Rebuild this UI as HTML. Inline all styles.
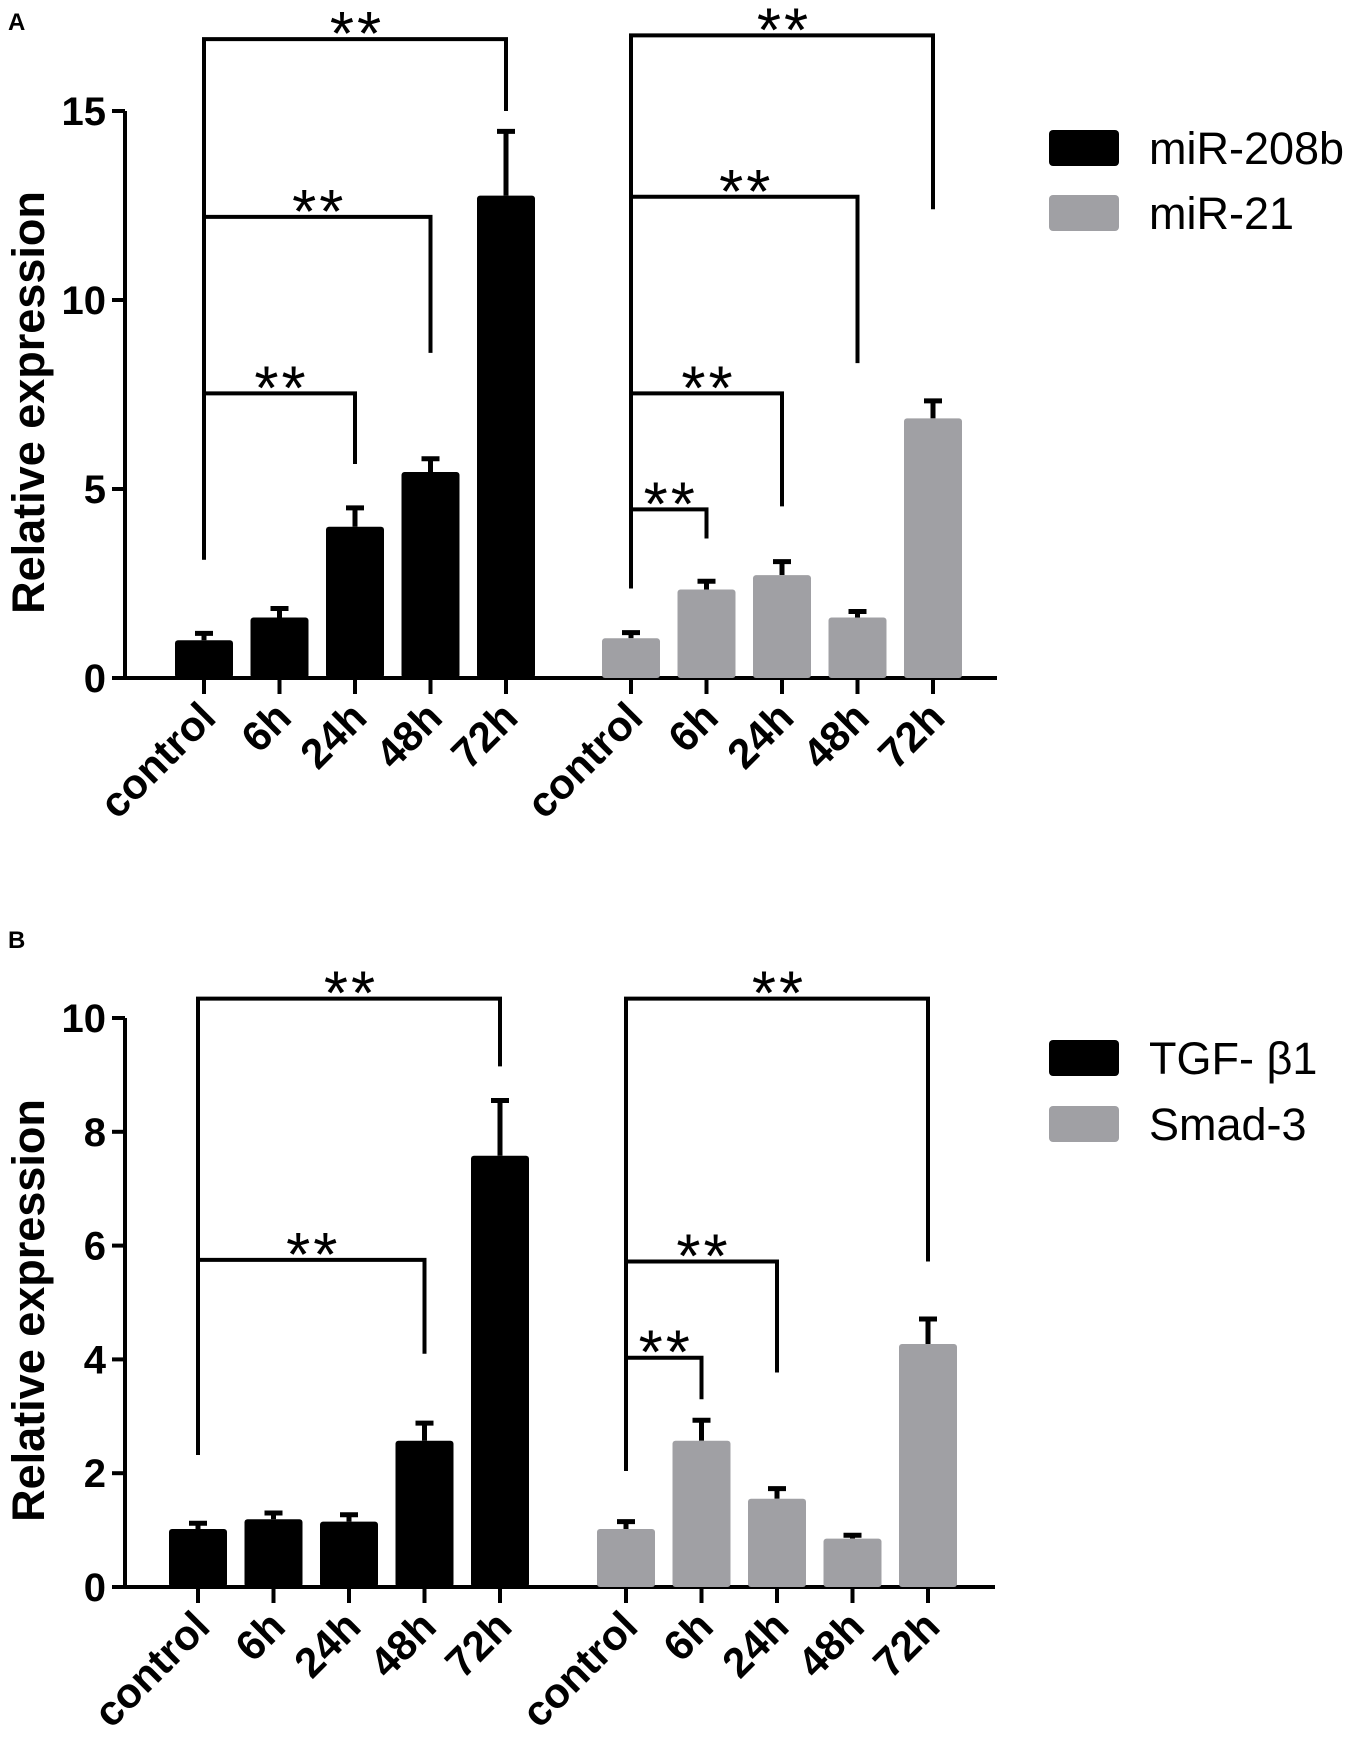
<!DOCTYPE html>
<html><head><meta charset="utf-8"><style>
body{margin:0;background:#fff}
svg{display:block;font-family:"Liberation Sans",Arial,sans-serif}
</style></head><body>
<svg id="c" width="1350" height="1737" viewBox="0 0 1350 1737" xmlns="http://www.w3.org/2000/svg"></svg>
<script>
const categories = ["control","6h","24h","48h","72h"];
const aSeries1 = [1.0,1.6,4.0,5.45,12.76];
const aErr1 = [1.18,1.84,4.5,5.8,14.46];
const aSeries2 = [1.05,2.34,2.72,1.6,6.87];
const aErr2 = [1.2,2.56,3.08,1.76,7.33];
const bSeries1 = [1.02,1.19,1.15,2.57,7.58];
const bErr1 = [1.12,1.3,1.27,2.88,8.55];
const bSeries2 = [1.02,2.57,1.55,0.85,4.27];
const bErr2 = [1.15,2.93,1.73,0.91,4.71];
const aTicks = [0,5,10,15];
const bTicks = [0,2,4,6,8,10];
// brackets: [fromIndex, toIndex, level, leftDrop, rightDrop]
const aBr1 = [[0,4,16.9,3.13,15.0],[0,3,12.2,3.13,8.6],[0,2,7.53,3.13,5.66]];
const aBr2 = [[0,4,17.0,2.37,12.4],[0,3,12.73,2.37,8.33],[0,2,7.53,2.37,4.54],[0,1,4.46,2.37,3.69]];
const bBr1 = [[0,4,10.34,2.32,9.15],[0,3,5.75,2.32,4.1]];
const bBr2 = [[0,4,10.34,2.04,5.72],[0,2,5.72,2.04,3.77],[0,1,4.03,2.04,3.3]];

const svg = document.getElementById('c');
const NS = 'http://www.w3.org/2000/svg';
function mk(tag, attrs, parent){const e=document.createElementNS(NS,tag);for(const k in attrs)e.setAttribute(k,attrs[k]);(parent||svg).appendChild(e);return e;}

function panel(cfg){
  const g = mk('g',{});
  
  
  const y = v => cfg.y0 - v*cfg.ppu;
  const x1 = i => cfg.x1 + i*cfg.step;
  const x2 = i => cfg.x2 + i*cfg.step;
  const pl = mk('text',{x:8,y:cfg.letterY,'font-size':24,'font-weight':'bold'},g); pl.textContent=cfg.letter;
  
  
  const yt = mk('text',{x:0,y:0,'font-size':45,'font-weight':'bold','text-anchor':'middle',transform:`translate(44,${(y(cfg.max)+cfg.y0)/2+8}) rotate(-90)`},g); yt.textContent='Relative expression';
  
  
  const ax = mk('path',{d:`M125 ${y(cfg.max)} V${cfg.y0} H${cfg.xEnd}`,stroke:'#000','stroke-width':4,fill:'none'},g);
  
  
  cfg.ticks.forEach(t=>{
    const tl = mk('line',{x1:112,x2:125,y1:y(t),y2:y(t),stroke:'#000','stroke-width':4},g);
    
    
    const tx = mk('text',{x:106,y:y(t)+14,'font-size':40,'font-weight':'bold','text-anchor':'end'},g); tx.textContent=t;
    
    
  });
  function series(vals, errs, xf, color, nm){
    vals.forEach((v,i)=>{
      const cx = xf(i);
      const e = mk('path',{d:`M${cx} ${y(v)} V${y(errs[i])} M${cx-9} ${y(errs[i])} H${cx+9}`,stroke:'#000','stroke-width':5,fill:'none'},g);
      
      
      const r = mk('rect',{x:cx-29,y:y(v),width:58,height:cfg.y0-y(v),fill:color,rx:3},g);
      
      
      const tk = mk('line',{x1:cx,x2:cx,y1:cfg.y0,y2:cfg.y0+16,stroke:'#000','stroke-width':4},g);
      
      
      const lb = mk('text',{x:0,y:0,'font-size':42,'font-weight':'bold','text-anchor':'end',transform:`translate(${cx+14},${cfg.y0+42}) rotate(-45)`},g);
      lb.textContent = categories[i];
      
      
    });
  }
  series(cfg.s1,cfg.e1,x1,'#000','series1');
  series(cfg.s2,cfg.e2,x2,'#a0a0a4','series2');
  function brackets(list, xf){
    list.forEach(b=>{
      const xa=xf(b[0]), xb=xf(b[1]), yl=y(b[2]);
      const p = mk('path',{d:`M${xa} ${y(b[3])} V${yl} H${xb} V${y(b[4])}`,stroke:'#000','stroke-width':4,fill:'none'},g);
      
      
      const s = mk('text',{x:(xa+xb)/2+2,y:yl+16,'font-size':62,'text-anchor':'middle','letter-spacing':3},g);
      s.textContent='**';
      
      
    });
  }
  brackets(cfg.b1,x1); brackets(cfg.b2,x2);
  [[cfg.l1,'#000',cfg.ly1],[cfg.l2,'#a0a0a4',cfg.ly2]].forEach(l=>{
    const r = mk('rect',{x:1049,y:l[2],width:70,height:36,fill:l[1],rx:4},g);
    
    
    const t = mk('text',{x:1149,y:l[2]+34,'font-size':45},g); t.textContent=l[0];
    
    
  });
}
panel({name:'panel-a',letter:'A',letterY:30,y0:678,ppu:37.8,max:15,ticks:aTicks,x1:204,x2:631,step:75.5,xEnd:997,
  s1:aSeries1,e1:aErr1,s2:aSeries2,e2:aErr2,b1:aBr1,b2:aBr2,l1:'miR-208b',l2:'miR-21',ly1:130,ly2:195});
panel({name:'panel-b',letter:'B',letterY:948,y0:1587,ppu:56.9,max:10,ticks:bTicks,x1:198,x2:626,step:75.5,xEnd:995,
  s1:bSeries1,e1:bErr1,s2:bSeries2,e2:bErr2,b1:bBr1,b2:bBr2,l1:'TGF- β1',l2:'Smad-3',ly1:1040,ly2:1106});
</script>
</body></html>
